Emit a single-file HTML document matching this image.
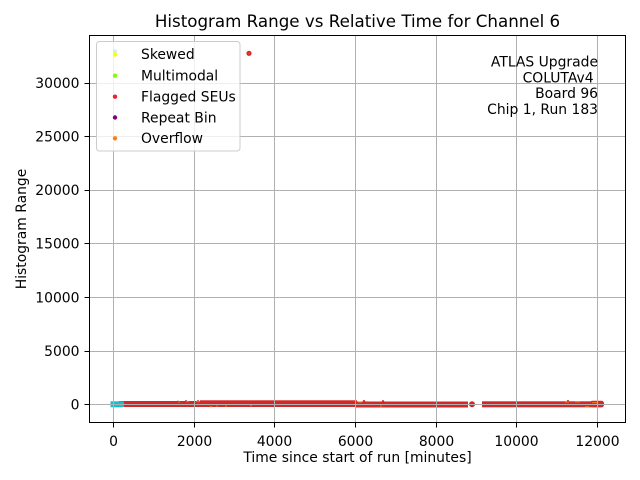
<!DOCTYPE html>
<html>
<head>
<meta charset="utf-8">
<style>
html,body{margin:0;padding:0;background:#fff;}
svg{display:block;}
text{font-family:"DejaVu Sans","Liberation Sans",sans-serif;fill:#000;}
</style>
</head>
<body>
<svg width="640" height="480" viewBox="0 0 640 480" xmlns="http://www.w3.org/2000/svg">
<rect x="0" y="0" width="640" height="480" fill="#fff"/>
<rect x="89.5" y="35.5" width="536" height="387" fill="#fff"/>

<!-- data band -->
<g>
  <rect x="119" y="401" width="238" height="6" fill="#d62728"/>
  <rect x="200" y="400.3" width="157" height="1.5" fill="#d62728"/>
  <rect x="356" y="401.5" width="112" height="6" fill="#d62728"/>
  <circle cx="472" cy="404.3" r="3" fill="#d62728"/>
  <rect x="482" y="401.3" width="120" height="6" fill="#d62728"/>
  <rect x="590" y="400.8" width="14" height="6.5" rx="2.5" fill="#d62728"/>
  <rect x="110.5" y="401.3" width="12" height="6" fill="#17becf"/>
  <rect x="122.5" y="401.5" width="1.5" height="5.5" fill="#17becf"/>
  <circle cx="178" cy="401.8" r="1.2" fill="#d62728"/>
  <circle cx="186" cy="401.3" r="1.2" fill="#d62728"/>
  <circle cx="198" cy="401.3" r="1.2" fill="#d62728"/>
  <circle cx="364" cy="401.2" r="1.2" fill="#d62728"/>
  <circle cx="383" cy="401.3" r="1.2" fill="#d62728"/>
  <circle cx="568" cy="401.2" r="1.2" fill="#d62728"/>
  <g fill="#ff7f0e" opacity="0.7">
    <rect x="178" y="401.5" width="2" height="1.2"/>
    <rect x="186" y="401" width="3" height="1.2"/>
    <rect x="196" y="401" width="4" height="1.2"/>
    <rect x="210" y="406" width="2" height="1.2"/>
    <rect x="216" y="405.5" width="2" height="1.2"/>
    <rect x="225" y="405.5" width="2" height="1.2"/>
    <rect x="250" y="405" width="2" height="1.2"/>
    <rect x="300" y="404" width="3" height="1"/>
    <rect x="358" y="401.5" width="4" height="1.2"/>
    <rect x="366" y="401" width="3" height="1.2"/>
    <rect x="380" y="405.5" width="2" height="1.2"/>
    <rect x="420" y="404" width="3" height="1"/>
    <rect x="565" y="401.5" width="4" height="1.2"/>
    <rect x="575" y="401.3" width="5" height="1.2"/>
    <rect x="585" y="406" width="4" height="1.2"/>
    <rect x="592" y="402" width="5" height="1.2"/>
  </g>
  <circle cx="249" cy="53.3" r="2.6" fill="#d62728"/>
  <circle cx="249" cy="53.3" r="1.2" fill="#e0440e"/>
</g>

<!-- grid -->
<g stroke="#b0b0b0" stroke-width="1">
  <line x1="113.5" y1="35.5" x2="113.5" y2="422.5"/>
  <line x1="194.5" y1="35.5" x2="194.5" y2="422.5"/>
  <line x1="274.5" y1="35.5" x2="274.5" y2="422.5"/>
  <line x1="355.5" y1="35.5" x2="355.5" y2="422.5"/>
  <line x1="436.5" y1="35.5" x2="436.5" y2="422.5"/>
  <line x1="516.5" y1="35.5" x2="516.5" y2="422.5"/>
  <line x1="597.5" y1="35.5" x2="597.5" y2="422.5"/>
  <line x1="89.5" y1="404.5" x2="625.5" y2="404.5"/>
  <line x1="89.5" y1="351.5" x2="625.5" y2="351.5"/>
  <line x1="89.5" y1="297.5" x2="625.5" y2="297.5"/>
  <line x1="89.5" y1="243.5" x2="625.5" y2="243.5"/>
  <line x1="89.5" y1="190.5" x2="625.5" y2="190.5"/>
  <line x1="89.5" y1="136.5" x2="625.5" y2="136.5"/>
  <line x1="89.5" y1="83.5" x2="625.5" y2="83.5"/>
</g>

<rect x="89.5" y="35.5" width="536" height="387" fill="none" stroke="#000" stroke-width="1"/>

<g stroke="#000" stroke-width="1">
  <line x1="113.5" y1="422.5" x2="113.5" y2="427.5"/>
  <line x1="194.5" y1="422.5" x2="194.5" y2="427.5"/>
  <line x1="274.5" y1="422.5" x2="274.5" y2="427.5"/>
  <line x1="355.5" y1="422.5" x2="355.5" y2="427.5"/>
  <line x1="436.5" y1="422.5" x2="436.5" y2="427.5"/>
  <line x1="516.5" y1="422.5" x2="516.5" y2="427.5"/>
  <line x1="597.5" y1="422.5" x2="597.5" y2="427.5"/>
  <line x1="84.5" y1="404.5" x2="89.5" y2="404.5"/>
  <line x1="84.5" y1="351.5" x2="89.5" y2="351.5"/>
  <line x1="84.5" y1="297.5" x2="89.5" y2="297.5"/>
  <line x1="84.5" y1="243.5" x2="89.5" y2="243.5"/>
  <line x1="84.5" y1="190.5" x2="89.5" y2="190.5"/>
  <line x1="84.5" y1="136.5" x2="89.5" y2="136.5"/>
  <line x1="84.5" y1="83.5" x2="89.5" y2="83.5"/>
</g>

<g font-size="13.9" text-anchor="middle">
  <text x="113.5" y="446">0</text>
  <text x="194.5" y="446">2000</text>
  <text x="274.5" y="446">4000</text>
  <text x="355.5" y="446">6000</text>
  <text x="436.5" y="446">8000</text>
  <text x="516.5" y="446">10000</text>
  <text x="597.5" y="446">12000</text>
</g>
<g font-size="13.9" text-anchor="end">
  <text x="79.5" y="409.5">0</text>
  <text x="79.5" y="356.2">5000</text>
  <text x="79.5" y="302.3">10000</text>
  <text x="79.5" y="248.5">15000</text>
  <text x="79.5" y="195.2">20000</text>
  <text x="79.5" y="141.5">25000</text>
  <text x="79.5" y="88.2">30000</text>
</g>

<text x="357.5" y="27" font-size="16.7" text-anchor="middle">Histogram Range vs Relative Time for Channel 6</text>
<text x="357.5" y="462" font-size="13.9" text-anchor="middle">Time since start of run [minutes]</text>
<text transform="translate(26,229) rotate(-90)" font-size="13.9" text-anchor="middle">Histogram Range</text>

<g font-size="13.9" text-anchor="end">
  <text x="598" y="66.5">ATLAS Upgrade</text>
  <text x="598" y="82.3" xml:space="preserve">COLUTAv4 </text>
  <text x="598" y="98">Board 96</text>
  <text x="598" y="113.8">Chip 1, Run 183</text>
</g>

<rect x="96.5" y="41.5" width="143.5" height="109.5" rx="3" ry="3" fill="#fff" fill-opacity="0.8" stroke="#cccccc" stroke-width="1"/>
<circle cx="115" cy="51.5" r="2.2" fill="#c8f0f4"/>
<circle cx="115" cy="54.5" r="2.2" fill="#ffff00"/>
<circle cx="115" cy="75.7" r="2.2" fill="#7fff00"/>
<circle cx="115" cy="96.7" r="2.2" fill="#e8262c"/>
<circle cx="115" cy="117.5" r="2.2" fill="#800080"/>
<circle cx="115" cy="138.3" r="2.2" fill="#ff7f0e"/>
<g font-size="13.9">
  <text x="141" y="59">Skewed</text>
  <text x="141" y="80.5">Multimodal</text>
  <text x="141" y="101.5">Flagged SEUs</text>
  <text x="141" y="122.3">Repeat Bin</text>
  <text x="141" y="143.2">Overflow</text>
</g>
</svg>
</body>
</html>
